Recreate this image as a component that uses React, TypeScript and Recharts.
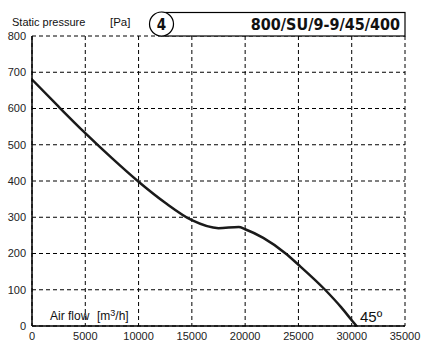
import { LineChart, Line, XAxis, YAxis, CartesianGrid } from 'recharts';

const airFlow = [0, 2500, 5000, 7500, 10000, 12500, 15000, 17500, 19400, 20000, 21700, 23800, 25000, 27500, 29000, 30000, 30450];
const pressure = [680, 605, 532, 463, 398, 340, 292, 270, 273, 267, 243, 200, 169, 100, 52, 16, 0];

const xTicks = [0, 5000, 10000, 15000, 20000, 25000, 30000, 35000];
const yTicks = [0, 100, 200, 300, 400, 500, 600, 700, 800];

const modelName = '800/SU/9-9/45/400';
const curveNo = '4';

const W = 427;
const H = 359;

export default function App() {
  const data = airFlow.map((q, i) => ({ q, p: pressure[i] }));
  const tickStyle = { fontSize: 11, fill: '#222', fontFamily: "'Liberation Sans', Arial, sans-serif" };
  const labelFont = "'Liberation Sans', Arial, sans-serif";
  const narrow = "'Liberation Sans Narrow', 'DejaVu Sans Condensed', sans-serif";

  return (
    <div style={{ position: 'fixed', left: 0, top: 0, width: W, height: H, background: '#fff' }}>
      <LineChart width={W} height={H} data={data} margin={{ top: 36, right: 22, bottom: 13, left: 0 }}>
        <CartesianGrid stroke="#000" strokeDasharray="4 3" strokeWidth={1} />
        <XAxis
          dataKey="q"
          type="number"
          domain={[0, 35000]}
          ticks={xTicks}
          height={20}
          axisLine={{ stroke: '#000', strokeWidth: 1.5 }}
          tickLine={false}
          tickSize={4}
          tickMargin={2}
          tick={tickStyle}
          interval={0}
        />
        <YAxis
          dataKey="p"
          type="number"
          domain={[0, 800]}
          ticks={yTicks}
          width={32}
          axisLine={{ stroke: '#000', strokeWidth: 1.5 }}
          tickLine={false}
          tickSize={4}
          tickMargin={2}
          tick={tickStyle}
          interval={0}
        />
        <Line
          type="monotone"
          dataKey="p"
          stroke="#1a1a1a"
          strokeWidth={2.5}
          dot={false}
          isAnimationActive={false}
        />
      </LineChart>
      <svg width={W} height={H} style={{ position: 'absolute', left: 0, top: 0, pointerEvents: 'none' }}>
        <rect x={162} y={12.5} width={243} height={23.5} fill="#fff" stroke="#000" strokeWidth={1.2} />
        <circle cx={161.5} cy={24} r={12} fill="#fff" stroke="#000" strokeWidth={1.2} />
        <text x={161.5} y={29.5} textAnchor="middle" fontSize={15} fontWeight="bold" fontFamily={narrow} fill="#111">{curveNo}</text>
        <text x={400} y={30} textAnchor="end" fontSize={16} fontWeight="bold" fontFamily={narrow} fill="#111">{modelName}</text>
        <text x={12} y={26} fontSize={11} fontFamily={labelFont} fill="#111">Static pressure</text>
        <text x={110} y={26} fontSize={11.5} fontFamily={labelFont} fill="#111">[Pa]</text>
        <text x={50} y={320} fontSize={12} fontFamily={labelFont} fill="#111">Air flow</text>
        <text x={97} y={320} fontSize={12} fontFamily={labelFont} fill="#111">
          [m<tspan dy={-4} fontSize={9}>3</tspan><tspan dy={4}>/h]</tspan>
        </text>
        <text x={360} y={322} fontSize={15} fontFamily={labelFont} fill="#111">45º</text>
      </svg>
    </div>
  );
}
